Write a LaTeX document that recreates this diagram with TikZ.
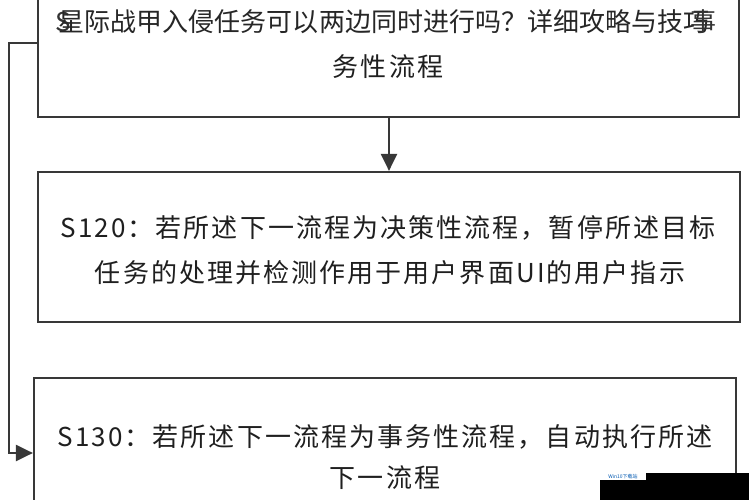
\documentclass[tikz,border=0pt]{standalone}
\usepackage{fontspec}
\setmainfont{Noto Sans CJK SC}
\newfontfamily\boxfont{Noto Sans CJK SC}[LetterSpace=8]
\newfontfamily\titlefont{Noto Sans CJK SC}
\usetikzlibrary{arrows.meta}
\definecolor{edge}{HTML}{383838}
\tikzset{
  box/.style={draw=edge, line width=2.2bp, inner sep=0pt, fill=white},
  conn/.style={draw=edge, line width=2.2bp, -{Triangle[length=17bp,width=16bp]}},
  boxtext/.style={font=\boxfont\fontsize{26bp}{30bp}\selectfont, text=black!88, inner sep=0pt},
  titletext/.style={font=\titlefont\fontsize{26bp}{30bp}\selectfont, text=black!85, inner sep=0pt}
}
\begin{document}
\begin{tikzpicture}[x=1bp,y=-1bp]
\useasboundingbox (0,0) rectangle (749,500);
\fill[white] (0,0) rectangle (749,500);
% boxes
\node[box, minimum width=701bp, minimum height=127bp] (b1) at (388.5,53.5) {};
\node[box, minimum width=702bp, minimum height=150bp] (b2) at (389,247) {};
\node[box, minimum width=702bp, minimum height=142bp] (b3) at (385,449) {};
% texts
\node[boxtext, text=black!80] (s1) at (63,22) {S};
\node[titletext] (t1) at (384,22) {星际战甲入侵任务可以两边同时进行吗？详细攻略与技巧};
\node[boxtext, text=black!80] (s2) at (703,22) {事};
\node[boxtext] (t2) at (388,67) {务性流程};
\node[boxtext] (t3) at (388,228) {S120：若所述下一流程为决策性流程，暂停所述目标};
\node[boxtext] (t4) at (390,273) {任务的处理并检测作用于用户界面UI的用户指示};
\node[boxtext] (t5) at (385,437) {S130：若所述下一流程为事务性流程，自动执行所述};
\node[boxtext] (t6) at (385,478) {下一流程};
% connectors
\draw[conn] (b2.north |- b1.south) -- (b2.north);
\draw[conn] ([yshift=10.5bp]b1.west) -- ++(-28,0) |- ([yshift=-4bp]b3.west);
% watermark cover
\fill[black] (646,473) rectangle (749,500);
\fill[black] (600,480) rectangle (749,500);
\node[inner sep=0pt, text=blue!50!cyan!70!black, font=\fontsize{5bp}{6bp}\selectfont] (wm) at (623,476.5) {Win10下载站};
\end{tikzpicture}
\end{document}
